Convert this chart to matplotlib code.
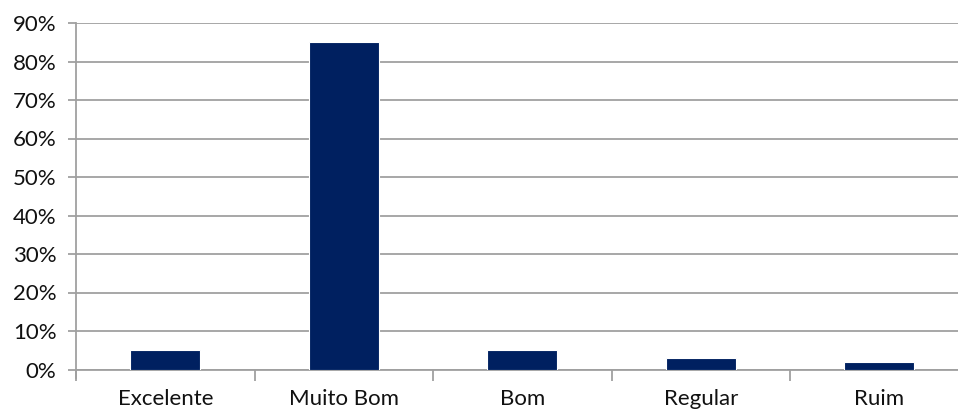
import matplotlib
matplotlib.use("Agg")
import matplotlib.pyplot as plt
from matplotlib.ticker import FuncFormatter, FixedLocator

categories = ["Excelente", "Muito Bom", "Bom", "Regular", "Ruim"]
values = [5, 85, 5, 3, 2]
y_ticks = [0, 10, 20, 30, 40, 50, 60, 70, 80, 90]

bar_color = "#002060"
grid_color = "#a0a0a0"
text_color = "#111111"

plt.rcParams["font.family"] = ["Lato", "DejaVu Sans"]

fig = plt.figure(figsize=(9.58, 4.12), dpi=100)
W, H = 958, 412
left, right, bottom, top = 76, 968.5, 412 - 369.5, 412 - 23
ax = fig.add_axes([left / W, bottom / H, (right - left) / W, (top - bottom) / H])

x = list(range(len(categories)))
ax.bar(x, values, width=0.39, color=bar_color, edgecolor="white", linewidth=0.8, zorder=3)

ax.set_xlim(-0.5, len(categories) - 0.5)
ax.set_ylim(0, 90)
ax.set_yticks(y_ticks)
ax.yaxis.set_major_formatter(FuncFormatter(lambda v, p: f"{int(v)}%"))
ax.grid(axis="y", color=grid_color, linewidth=1.3, zorder=0)

ax.set_xticks(x)
ax.set_xticklabels(categories)
ax.xaxis.set_minor_locator(FixedLocator([i + 0.5 for i in range(-1, len(categories))]))
ax.tick_params(axis="x", which="major", length=0, pad=14, labelsize=16, labelcolor=text_color)
ax.tick_params(axis="x", which="minor", length=8, width=1.3, color=grid_color)
ax.tick_params(axis="y", length=6, width=1.3, color=grid_color, pad=8, labelsize=16, labelcolor=text_color)

for s in ["top", "right"]:
    ax.spines[s].set_visible(False)
ax.spines["left"].set_color(grid_color)
ax.spines["left"].set_linewidth(1.3)
ax.spines["left"].set_bounds(-2.2, 90)
ax.spines["bottom"].set_color(grid_color)
ax.spines["bottom"].set_linewidth(1.3)

fig.savefig("out.png", dpi=100)
